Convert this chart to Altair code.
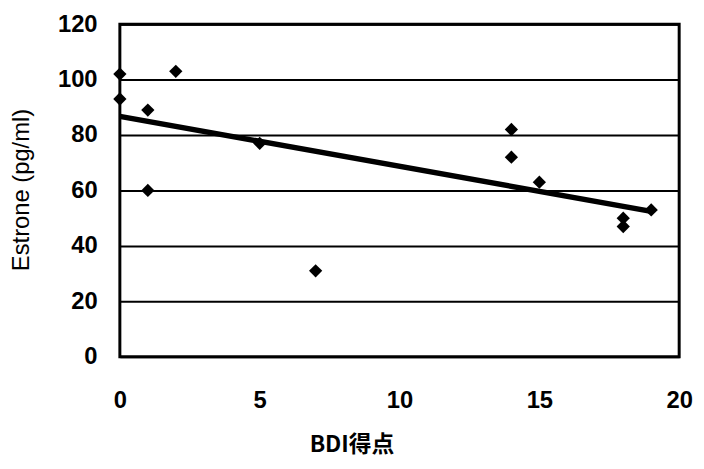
import altair as alt
import pandas as pd

bdi = [0, 0, 2, 1, 1, 5, 7, 14, 14, 15, 18, 18, 19]
estrone = [102, 93, 103, 89, 60, 77, 31, 82, 72, 63, 50, 47, 53]
x_ticks = [0, 5, 10, 15, 20]
y_ticks = [0, 20, 40, 60, 80, 100, 120]

df = pd.DataFrame({"BDI": bdi, "Estrone": estrone})

x = alt.X(
    "BDI:Q",
    scale=alt.Scale(domain=[0, 20], nice=False),
    axis=alt.Axis(
        values=x_ticks, title="BDI得点", grid=False, domain=False, ticks=False,
        labelPadding=32, labelFontSize=24, labelFontWeight="bold",
        labelFont="Liberation Sans", labelColor="black", labelFlush=False,
        titleFont="Noto Sans CJK JP", titleFontSize=23, titleFontWeight="bold",
        titleColor="black", titleX=234, titleY=78, titleBaseline="top",
        titleAlign="center",
    ),
)
y = alt.Y(
    "Estrone:Q",
    scale=alt.Scale(domain=[0, 120], nice=False),
    axis=alt.Axis(
        values=y_ticks, title="Estrone (pg/ml)", grid=True, gridColor="black",
        gridWidth=2, gridOpacity=1, domain=False, ticks=False,
        labelPadding=23, labelFontSize=24, labelFontWeight="bold",
        labelFont="Liberation Sans", labelColor="black", labelFlush=False,
        titleFont="Liberation Sans", titleFontSize=24, titleFontWeight="normal",
        titleColor="black", titleX=-92, titleY=167, titleAngle=-90,
        titleAlign="center", titleBaseline="alphabetic",
    ),
)

points = alt.Chart(df).mark_point(
    shape="diamond", filled=True, size=180, color="black", opacity=1
).encode(x=x, y=y)

fit = alt.Chart(df).transform_regression("BDI", "Estrone").mark_line(
    color="black", strokeWidth=5.5
).encode(x=alt.X("BDI:Q"), y=alt.Y("Estrone:Q"))

chart = (
    alt.layer(fit, points)
    .properties(
        width=565, height=336,
        autosize=alt.AutoSizeParams(type="none"),
        padding={"left": 113, "top": 14, "right": 17, "bottom": 108},
        background="white",
    )
    .configure_view(stroke="black", strokeWidth=3)
)

chart.save("out.html", embed_options={"renderer": "svg", "actions": False})
